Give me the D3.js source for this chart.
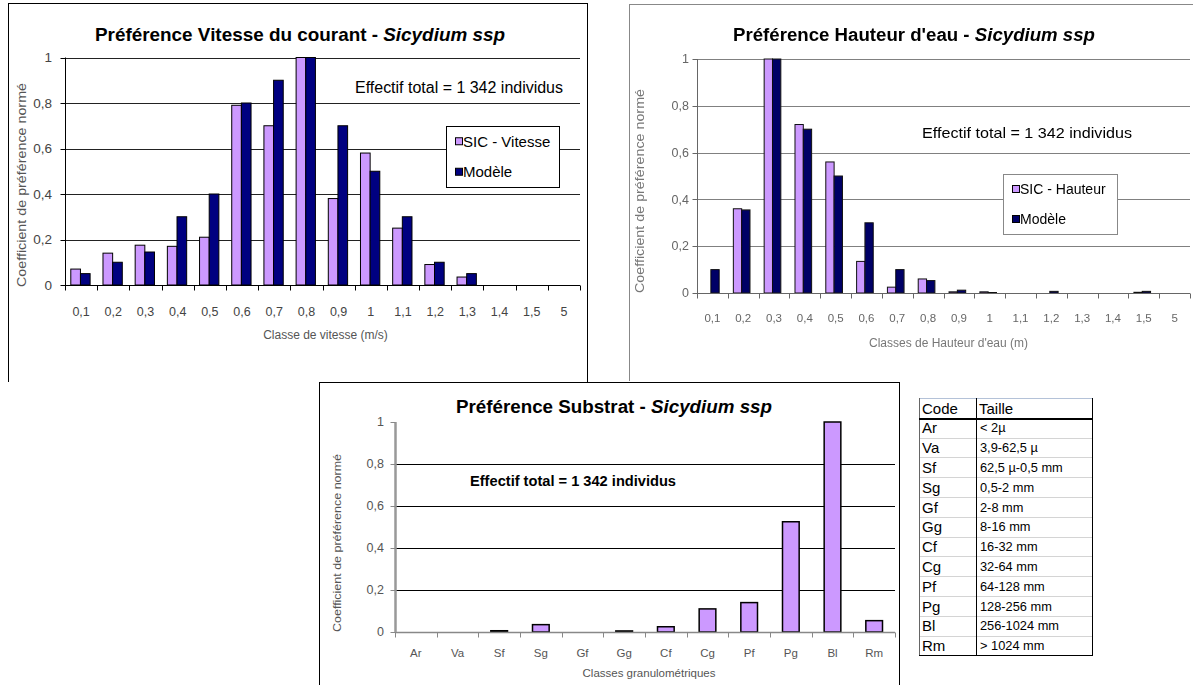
<!DOCTYPE html>
<html>
<head>
<meta charset="utf-8">
<script src="https://cdn.jsdelivr.net/npm/d3@7"></script>
<style>
  body { margin: 0; background: #fff; }
  svg { display: block; }
  text { font-family: "Liberation Sans", Arial, sans-serif; }
</style>
</head>
<body>
<svg id="c" width="1193" height="685"></svg>
<script>
// ---- Vitesse du courant ----
const vitesseClasses = ["0,1","0,2","0,3","0,4","0,5","0,6","0,7","0,8","0,9","1","1,1","1,2","1,3","1,4","1,5","5"];
const vitesseSIC     = [0.07,0.14,0.175,0.17,0.21,0.79,0.70,1.0,0.38,0.58,0.25,0.09,0.035,0,0,0];
const vitesseModele  = [0.05,0.10,0.145,0.30,0.40,0.80,0.90,1.0,0.70,0.50,0.30,0.10,0.05,0,0,0];

// ---- Hauteur d'eau ----
const hauteurClasses = ["0,1","0,2","0,3","0,4","0,5","0,6","0,7","0,8","0,9","1","1,1","1,2","1,3","1,4","1,5","5"];
const hauteurSIC     = [0,0.36,1.0,0.72,0.56,0.135,0.025,0.06,0.005,0.005,0,0,0,0,0.003,0];
const hauteurModele  = [0.10,0.355,1.0,0.70,0.50,0.30,0.10,0.053,0.012,0.002,0,0.007,0,0,0.007,0];

// ---- Substrat ----
const substratCodes  = ["Ar","Va","Sf","Sg","Gf","Gg","Cf","Cg","Pf","Pg","Bl","Rm"];
const substratSIC    = [0,0,0.006,0.035,0,0.005,0.025,0.11,0.14,0.525,1.0,0.054];
const substratTailles = ["< 2µ","3,9-62,5 µ","62,5 µ-0,5 mm","0,5-2 mm","2-8 mm","8-16 mm","16-32 mm","32-64 mm","64-128 mm","128-256 mm","256-1024 mm","> 1024 mm"];

const yTicks = [0, 0.2, 0.4, 0.6, 0.8, 1];
const effectifLabel = "Effectif total = 1 342 individus";
const yTitle = "Coefficient de préférence normé";

const PURPLE = "#CC99FF", NAVY = "#000080";
const fmt = d => String(d).replace(".", ",");

const svg = d3.select("#c");
svg.append("rect").attr("width", 1193).attr("height", 685).attr("fill", "#fff");

const defs = svg.append("defs");
defs.append("filter").attr("id", "soft").attr("x", "-5%").attr("y", "-5%").attr("width", "110%").attr("height", "110%")
  .append("feGaussianBlur").attr("stdDeviation", 0.6);

function path(g, pts, color, w) {
  g.append("path").attr("d", d3.line()(pts)).attr("fill", "none")
    .attr("stroke", color).attr("stroke-width", w).attr("shape-rendering", "crispEdges");
}

function title(g, cx, y, size, main, len) {
  const t = g.append("text").attr("x", cx).attr("y", y).attr("text-anchor", "middle")
    .attr("font-size", size).attr("font-weight", "bold").attr("fill", "#000")
    .attr("textLength", len).attr("lengthAdjust", "spacingAndGlyphs");
  t.append("tspan").text(main);
  t.append("tspan").attr("font-style", "italic").text("Sicydium ssp");
}

function barChart(g, cfg) {
  const x = d3.scaleBand().domain(cfg.classes).range([cfg.x0, cfg.x1]);
  const y = d3.scaleLinear().domain([0, 1]).range([cfg.yBottom, cfg.yTop]);
  const bw = x.bandwidth() * cfg.barFrac;

  // horizontal gridlines
  g.selectAll(null).data(cfg.grid).join("line")
    .attr("x1", cfg.x0).attr("x2", cfg.x1)
    .attr("y1", d => Math.round(y(d)) + 0.5).attr("y2", d => Math.round(y(d)) + 0.5)
    .attr("stroke", cfg.gridColor).attr("stroke-width", 1);

  // bars
  cfg.series.forEach((s, i) => {
    const rows = s.values.map((v, k) => ({ c: cfg.classes[k], v })).filter(d => d.v > 0);
    g.selectAll(null).data(rows).join("rect")
      .attr("x", d => x(d.c) + x.bandwidth() * cfg.offset + i * bw)
      .attr("y", d => y(d.v))
      .attr("width", bw)
      .attr("height", d => y(0) - y(d.v))
      .attr("fill", s.color)
      .attr("stroke", cfg.barStroke).attr("stroke-width", cfg.barStrokeW);
  });

  // x axis line with category-boundary ticks
  const y0 = Math.round(y(0)) + 0.5;
  g.append("line").attr("x1", cfg.x0).attr("x2", cfg.x1).attr("y1", y0).attr("y2", y0)
    .attr("stroke", cfg.axisColor).attr("stroke-width", cfg.xAxisW);
  const bounds = cfg.classes.map(c => x(c)).concat([cfg.x1]);
  g.selectAll(null).data(bounds).join("line")
    .attr("x1", d => Math.round(d) + 0.5).attr("x2", d => Math.round(d) + 0.5)
    .attr("y1", y0).attr("y2", y0 + 5)
    .attr("stroke", cfg.axisColor).attr("stroke-width", 1);
  g.selectAll(null).data(cfg.classes).join("text")
    .attr("x", d => x(d) + x.bandwidth() / 2).attr("y", cfg.xLabelY)
    .attr("text-anchor", "middle").attr("font-size", cfg.tickSize).attr("fill", cfg.tickColor)
    .text(d => d);

  // y axis
  const xa = Math.round(cfg.x0) + 0.5;
  g.append("line").attr("x1", xa).attr("x2", xa).attr("y1", y(0)).attr("y2", y(1))
    .attr("stroke", cfg.yAxisColor).attr("stroke-width", cfg.yAxisW);
  g.selectAll(null).data(yTicks).join("line")
    .attr("x1", xa - 5).attr("x2", xa)
    .attr("y1", d => Math.round(y(d)) + 0.5).attr("y2", d => Math.round(y(d)) + 0.5)
    .attr("stroke", cfg.axisColor).attr("stroke-width", 1);
  g.selectAll(null).data(yTicks).join("text")
    .attr("x", cfg.yLabelX).attr("y", d => y(d) + cfg.tickSize * 0.36)
    .attr("text-anchor", "end").attr("font-size", cfg.tickSize + 1).attr("fill", cfg.tickColor)
    .text(fmt);

  // axis titles
  g.append("text").attr("x", (cfg.x0 + cfg.x1) / 2 + (cfg.xTitleShift || 0)).attr("y", cfg.xTitleY)
    .attr("text-anchor", "middle").attr("font-size", cfg.titleSize).attr("fill", cfg.titleColor)
    .text(cfg.xTitle);
  g.append("text")
    .attr("transform", `translate(${cfg.yTitleX},${cfg.yTitleCY}) rotate(-90)`)
    .attr("text-anchor", "middle").attr("font-size", cfg.titleSize).attr("fill", cfg.titleColor)
    .attr("textLength", cfg.yTitleLen).attr("lengthAdjust", "spacingAndGlyphs")
    .text(yTitle);
}

function legend(g, box, items, size, stroke) {
  g.append("rect").attr("x", box[0] + 0.5).attr("y", box[1] + 0.5)
    .attr("width", box[2] - box[0]).attr("height", box[3] - box[1])
    .attr("fill", "#fff").attr("stroke", stroke).attr("stroke-width", 1);
  const step = (box[3] - box[1]) / items.length;
  items.forEach((it, i) => {
    const cy = box[1] + step * (i + 0.5);
    g.append("rect").attr("x", box[0] + 9.5).attr("y", cy - 3.5).attr("width", 7).attr("height", 7)
      .attr("fill", it.color).attr("stroke", "#000").attr("stroke-width", 1);
    g.append("text").attr("x", box[0] + 17).attr("y", cy + size * 0.36)
      .attr("font-size", size).attr("fill", "#000").text(it.label);
  });
}

// ================= Vitesse du courant =================
const g1 = svg.append("g");
path(g1, [[8.5, 382], [8.5, 3.5], [587.5, 3.5], [587.5, 382]], "#000", 1);
title(g1, 300, 41, 18.5, "Préférence Vitesse du courant - ", 410);
barChart(g1, {
  classes: vitesseClasses, x0: 65, x1: 580, yTop: 57.5, yBottom: 285,
  series: [{ values: vitesseSIC, color: PURPLE }, { values: vitesseModele, color: NAVY }],
  barFrac: 0.3, offset: 0.18, barStroke: "#000", barStrokeW: 1,
  grid: [0.2, 0.4, 0.6, 0.8, 1], gridColor: "#222",
  axisColor: "#000", xAxisW: 1, yAxisColor: "#000", yAxisW: 1,
  xLabelY: 316, tickSize: 12.5, tickColor: "#444", yLabelX: 52,
  xTitle: "Classe de vitesse (m/s)", xTitleY: 339, xTitleShift: 3,
  yTitleX: 26, yTitleCY: 185, yTitleLen: 204,
  titleSize: 12, titleColor: "#555"
});
g1.append("text").attr("x", 355).attr("y", 93).attr("font-size", 16)
  .attr("textLength", 208).attr("lengthAdjust", "spacingAndGlyphs").text(effectifLabel);
legend(g1, [446, 126, 559, 187], [{ label: "SIC - Vitesse", color: PURPLE }, { label: "Modèle", color: NAVY }], 15, "#000");

// ================= Hauteur d'eau =================
const g2 = svg.append("g").attr("filter", "url(#soft)");
path(g2, [[629.5, 381], [629.5, 4.5], [1193, 4.5]], "#888", 1.2);
title(g2, 914, 41, 17.5, "Préférence Hauteur d'eau - ", 362);
barChart(g2, {
  classes: hauteurClasses, x0: 697, x1: 1190, yTop: 59, yBottom: 293,
  series: [{ values: hauteurSIC, color: PURPLE }, { values: hauteurModele, color: "#000066" }],
  barFrac: 0.27, offset: 0.18, barStroke: "#111", barStrokeW: 1,
  grid: [0.2, 0.4, 0.6, 0.8, 1], gridColor: "#808080",
  axisColor: "#666", xAxisW: 1, yAxisColor: "#666", yAxisW: 1,
  xLabelY: 322, tickSize: 11.5, tickColor: "#666", yLabelX: 689,
  xTitle: "Classes de Hauteur d'eau (m)", xTitleY: 347, xTitleShift: 5,
  yTitleX: 644, yTitleCY: 191, yTitleLen: 204,
  titleSize: 12, titleColor: "#777"
});
g2.append("text").attr("x", 922).attr("y", 138).attr("font-size", 14.5)
  .attr("textLength", 210).attr("lengthAdjust", "spacingAndGlyphs").text(effectifLabel);
legend(g2, [1003, 174, 1117, 234], [{ label: "SIC - Hauteur", color: PURPLE }, { label: "Modèle", color: "#000066" }], 14, "#888");

// ================= Substrat =================
const g3 = svg.append("g");
path(g3, [[319.5, 685], [319.5, 382.5], [899.5, 382.5], [899.5, 685]], "#000", 1);
title(g3, 614, 413, 17.5, "Préférence Substrat - ", 316);
barChart(g3, {
  classes: substratCodes, x0: 395, x1: 895, yTop: 422, yBottom: 632,
  series: [{ values: substratSIC, color: PURPLE }],
  barFrac: 0.4, offset: 0.3, barStroke: "#000", barStrokeW: 1.5,
  grid: [0.2, 0.4, 0.6, 0.8], gridColor: "#000",
  axisColor: "#888", xAxisW: 1.5, yAxisColor: "#999", yAxisW: 2.5,
  xLabelY: 657, tickSize: 11.5, tickColor: "#555", yLabelX: 384,
  xTitle: "Classes granulométriques", xTitleY: 677, xTitleShift: 4,
  yTitleX: 341, yTitleCY: 543, yTitleLen: 178,
  titleSize: 11.5, titleColor: "#555"
});
g3.append("text").attr("x", 470).attr("y", 486).attr("font-size", 14).attr("font-weight", "bold")
  .attr("textLength", 206).attr("lengthAdjust", "spacingAndGlyphs").text(effectifLabel);

// ================= Table des classes granulométriques =================
const gt = svg.append("g");
const tx0 = 919, tx1 = 1092, tcol = 976, ty0 = 398, rowH = 19.8;
const nRows = substratCodes.length + 1;
const rowY = d3.range(nRows + 1).map(i => ty0 + i * rowH);
// row separators
gt.selectAll(null).data(rowY.slice(2, -1)).join("line")
  .attr("x1", tx0).attr("x2", tx1).attr("y1", d => Math.round(d) + 0.5).attr("y2", d => Math.round(d) + 0.5)
  .attr("stroke", "#d4d4d4").attr("stroke-width", 1);
path(gt, [[tx0, ty0 + 0.5], [tx1, ty0 + 0.5]], "#b4c2d8", 1);
path(gt, [[tx0 + 0.5, ty0], [tx0 + 0.5, rowY[nRows]]], "#666", 1);
path(gt, [[tcol + 0.5, ty0], [tcol + 0.5, rowY[nRows]]], "#000", 1.5);
path(gt, [[tx1 + 0.5, ty0], [tx1 + 0.5, rowY[nRows]]], "#000", 1.5);
path(gt, [[tx0, Math.round(rowY[1]) + 0.5], [tx1, Math.round(rowY[1]) + 0.5]], "#000", 2);
path(gt, [[tx0, Math.round(rowY[nRows]) + 0.5], [tx1 + 1, Math.round(rowY[nRows]) + 0.5]], "#000", 1.5);

const tf = '"DejaVu Sans", Verdana, sans-serif';
gt.append("text").attr("x", tx0 + 3).attr("y", rowY[0] + 15.5).attr("font-family", tf).attr("font-size", 15).text("Code");
gt.append("text").attr("x", tcol + 3).attr("y", rowY[0] + 15.5).attr("font-family", tf).attr("font-size", 15).text("Taille");
gt.selectAll(null).data(substratCodes).join("text")
  .attr("x", tx0 + 3).attr("y", (d, i) => rowY[i + 1] + 15.5)
  .attr("font-family", tf).attr("font-size", 15).text(d => d);
gt.selectAll(null).data(substratTailles).join("text")
  .attr("x", tcol + 4).attr("y", (d, i) => rowY[i + 1] + 14.5)
  .attr("font-family", tf).attr("font-size", 12.8).text(d => d);
</script>
</body>
</html>
